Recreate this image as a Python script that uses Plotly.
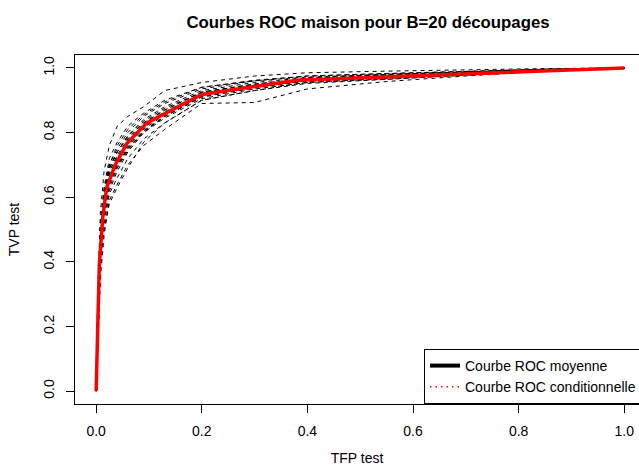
import plotly.graph_objects as go

# Common FPR grid for the 20 split ROC curves
fpr_grid = [0, 0.003, 0.008, 0.015, 0.025, 0.04, 0.06, 0.09, 0.13, 0.2, 0.3, 0.4, 0.55, 0.7, 0.85, 1.0]

tvp_c01 = [0, 0.30, 0.55, 0.68, 0.76, 0.82, 0.85, 0.88, 0.93, 0.955, 0.975, 0.985, 0.99, 0.995, 0.998, 1]
tvp_c02 = [0, 0.15, 0.38, 0.50, 0.58, 0.63, 0.69, 0.77, 0.83, 0.90, 0.93, 0.955, 0.965, 0.978, 0.99, 1]
tvp_c03 = [0, 0.22, 0.48, 0.60, 0.69, 0.74, 0.79, 0.84, 0.88, 0.93, 0.955, 0.97, 0.98, 0.988, 0.995, 1]
tvp_c04 = [0, 0.18, 0.42, 0.55, 0.64, 0.70, 0.75, 0.80, 0.85, 0.91, 0.94, 0.962, 0.972, 0.983, 0.992, 1]
tvp_c05 = [0, 0.25, 0.50, 0.62, 0.70, 0.75, 0.80, 0.85, 0.89, 0.935, 0.96, 0.975, 0.983, 0.99, 0.996, 1]
tvp_c06 = [0, 0.12, 0.35, 0.48, 0.59, 0.64, 0.70, 0.76, 0.81, 0.89, 0.893, 0.935, 0.958, 0.975, 0.99, 1]
tvp_c07 = [0, 0.20, 0.46, 0.58, 0.67, 0.72, 0.77, 0.82, 0.86, 0.92, 0.945, 0.965, 0.975, 0.985, 0.993, 1]
tvp_c08 = [0, 0.28, 0.52, 0.63, 0.72, 0.77, 0.82, 0.86, 0.90, 0.94, 0.96, 0.972, 0.98, 0.988, 0.995, 1]
tvp_c09 = [0, 0.17, 0.40, 0.53, 0.62, 0.68, 0.74, 0.80, 0.845, 0.905, 0.935, 0.955, 0.968, 0.98, 0.99, 1]
tvp_c10 = [0, 0.23, 0.47, 0.59, 0.68, 0.73, 0.78, 0.83, 0.87, 0.925, 0.95, 0.967, 0.977, 0.986, 0.994, 1]
tvp_c11 = [0, 0.19, 0.43, 0.56, 0.65, 0.70, 0.755, 0.81, 0.855, 0.915, 0.94, 0.96, 0.97, 0.982, 0.992, 1]
tvp_c12 = [0, 0.26, 0.50, 0.61, 0.69, 0.74, 0.79, 0.835, 0.875, 0.925, 0.948, 0.968, 0.978, 0.987, 0.995, 1]
tvp_c13 = [0, 0.14, 0.37, 0.51, 0.61, 0.66, 0.72, 0.78, 0.83, 0.90, 0.93, 0.952, 0.965, 0.978, 0.99, 1]
tvp_c14 = [0, 0.21, 0.45, 0.58, 0.67, 0.715, 0.765, 0.815, 0.86, 0.915, 0.943, 0.962, 0.972, 0.983, 0.992, 1]
tvp_c15 = [0, 0.24, 0.49, 0.61, 0.70, 0.76, 0.81, 0.855, 0.895, 0.94, 0.962, 0.975, 0.982, 0.99, 0.996, 1]
tvp_c16 = [0, 0.16, 0.40, 0.54, 0.63, 0.69, 0.745, 0.805, 0.85, 0.91, 0.938, 0.958, 0.97, 0.982, 0.992, 1]
tvp_c17 = [0, 0.20, 0.44, 0.57, 0.66, 0.71, 0.76, 0.815, 0.86, 0.92, 0.944, 0.962, 0.973, 0.984, 0.993, 1]
tvp_c18 = [0, 0.22, 0.46, 0.59, 0.68, 0.725, 0.775, 0.825, 0.865, 0.92, 0.946, 0.964, 0.975, 0.985, 0.993, 1]
tvp_c19 = [0, 0.18, 0.41, 0.55, 0.64, 0.695, 0.75, 0.805, 0.85, 0.912, 0.94, 0.96, 0.97, 0.982, 0.992, 1]
tvp_c20 = [0, 0.21, 0.47, 0.60, 0.69, 0.74, 0.785, 0.83, 0.87, 0.925, 0.95, 0.966, 0.976, 0.986, 0.994, 1]

split_curves = [tvp_c01, tvp_c02, tvp_c03, tvp_c04, tvp_c05, tvp_c06, tvp_c07, tvp_c08, tvp_c09, tvp_c10,
                tvp_c11, tvp_c12, tvp_c13, tvp_c14, tvp_c15, tvp_c16, tvp_c17, tvp_c18, tvp_c19, tvp_c20]

# Mean ROC curve (red)
mean_fpr = [0, 0.003, 0.006, 0.0127, 0.02, 0.036, 0.058, 0.096, 0.2, 0.38, 0.58, 0.77, 1.0]
mean_tvp = [0, 0.20, 0.39, 0.54, 0.63, 0.70, 0.766, 0.83, 0.918, 0.962, 0.973, 0.986, 1.0]

tick_vals = [0, 0.2, 0.4, 0.6, 0.8, 1.0]
tick_text = ["0.0", "0.2", "0.4", "0.6", "0.8", "1.0"]

legend_labels = ["Courbe ROC moyenne", "Courbe ROC conditionnelle"]

FONT = "Liberation Sans, Arial, sans-serif"

fig = go.Figure()
for i, ys in enumerate(split_curves):
    fig.add_trace(go.Scatter(x=fpr_grid, y=ys, mode="lines", showlegend=False,
                             line=dict(color="black", width=1, dash="4px,4px"),
                             name=f"B{i+1}", hoverinfo="skip"))

fig.add_trace(go.Scatter(x=mean_fpr, y=mean_tvp, mode="lines", showlegend=False,
                         line=dict(color="#ff0000", width=3.5), name="moyenne"))

# legend-only entries (as in the original legend)
fig.add_trace(go.Scatter(x=[None], y=[None], mode="lines", name=legend_labels[0],
                         line=dict(color="black", width=4)))
fig.add_trace(go.Scatter(x=[None], y=[None], mode="lines", name=legend_labels[1],
                         line=dict(color="#ff0000", width=1.5, dash="1.5px,4px")))

fig.update_layout(
    width=639, height=468,
    margin=dict(l=75, r=0, t=55, b=64, autoexpand=False),
    paper_bgcolor="white", plot_bgcolor="white",
    font=dict(family=FONT, size=14, color="black"),
    title=dict(text="Courbes ROC maison pour B=20 découpages",
               font=dict(family=FONT, size=16.8, color="black", weight="bold"),
               x=368/639, xref="container", xanchor="center",
               y=1-22/468, yref="container", yanchor="middle"),
    showlegend=True,
    legend=dict(x=(424-75)/564, xanchor="left", y=0, yanchor="bottom",
                bgcolor="white", bordercolor="black", borderwidth=1,
                font=dict(family=FONT, size=14, color="black"),
                itemwidth=30, tracegroupgap=0),
)

fig.update_xaxes(range=[-0.04, (639-96)/528.3], showgrid=False, zeroline=False,
                 showline=True, linecolor="black", linewidth=1, mirror=True,
                 ticks="outside", ticklen=8, tickcolor="black", tickwidth=1,
                 tickvals=tick_vals, ticktext=tick_text, ticklabelstandoff=6,
                 title=dict(text="TFP test", font=dict(size=14), standoff=15),
                 automargin=False)
fig.update_yaxes(range=[-0.04, 1.04], showgrid=False, zeroline=False,
                 showline=True, linecolor="black", linewidth=1, mirror=False,
                 ticks="outside", ticklen=8, tickcolor="black", tickwidth=1,
                 tickvals=tick_vals, ticktext=tick_text, tickangle=-90, ticklabelstandoff=6,
                 title=dict(text="TVP test", font=dict(size=14), standoff=18),
                 automargin=False)

fig.write_html("out.html")
